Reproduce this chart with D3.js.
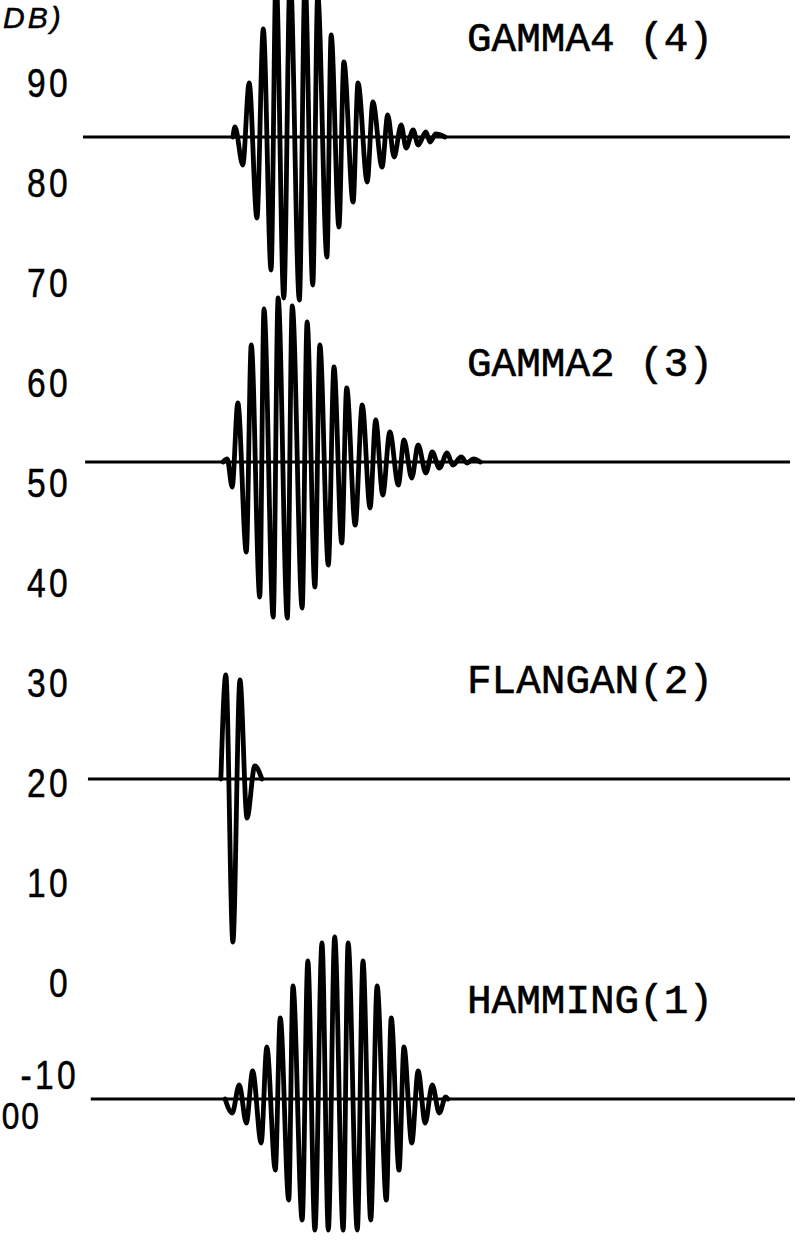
<!DOCTYPE html>
<html>
<head>
<meta charset="utf-8">
<script src="https://cdn.jsdelivr.net/npm/d3@7"></script>
<style>
  html, body { margin: 0; padding: 0; background: #fff; }
  svg { display: block; }
</style>
</head>
<body>
<svg id="chart" width="802" height="1240"></svg>
<script>
// ---------------- data (time in ms, level in dB) ----------------
const dbTicks = [90, 80, 70, 60, 50, 40, 30, 20, 10, 0, -10];
const seriesNames = ["GAMMA4 (4)", "GAMMA2 (3)", "FLANGAN(2)", "HAMMING(1)"];
const baseDb = [84.5, 52.0, 20.3, -11.7];
const lineStart = [0, 0.3, 0.7, 1.1];
const lineEnd = [100, 100, 100, 100.7];

const gamma4T = [21.2, 21.5, 22.6, 23.5, 24.6, 25.5, 26.6, 27.3, 28.4, 29.3, 30.6, 31.4, 32.5, 33.2, 34.5, 35.1, 36.2, 36.9, 38.2, 38.9, 40.2, 41.0, 42.3, 43.1, 44.0, 45.0, 45.7, 46.7, 47.4, 48.5, 49.1, 49.9, 51.2];
const gamma4V = [84.5, 85.5, 81.7, 89.9, 76.4, 95.3, 71.2, 100.7, 68.4, 100.7, 68.2, 100.2, 69.7, 98.7, 72.5, 94.7, 75.5, 92.0, 78.0, 89.9, 80.0, 88.0, 81.5, 86.7, 82.5, 85.7, 83.4, 85.2, 83.7, 85.0, 84.0, 84.8, 84.5];

const gamma2T = [19.8, 20.4, 21.1, 21.9, 23.1, 23.8, 25.0, 25.6, 26.9, 27.6, 28.9, 29.6, 31.0, 31.7, 32.8, 33.5, 34.7, 35.5, 36.6, 37.3, 38.5, 39.5, 40.6, 41.4, 42.4, 43.4, 44.6, 45.4, 46.5, 47.4, 48.5, 49.4, 50.4, 51.5, 52.3, 53.5, 54.3, 55.2, 56.2];
const gamma2V = [52.0, 52.3, 49.5, 57.9, 43.0, 63.7, 38.5, 67.3, 36.5, 68.4, 36.4, 67.6, 37.4, 66.0, 39.5, 63.7, 41.7, 61.5, 43.9, 59.4, 45.7, 57.7, 47.4, 56.2, 48.7, 55.0, 49.7, 54.2, 50.4, 53.7, 50.9, 53.0, 51.4, 52.9, 51.7, 52.5, 51.9, 52.3, 52.0];

const flanganT = [19.5, 20.2, 21.2, 22.2, 23.2, 24.3, 25.3];
const flanganV = [20.3, 30.7, 4.0, 30.2, 16.4, 21.6, 20.3];

const hammingT = [20.1, 21.1, 22.1, 23.1, 24.0, 25.2, 26.0, 27.2, 27.9, 29.1, 29.7, 31.0, 31.8, 32.8, 33.8, 34.7, 35.6, 36.8, 37.5, 38.8, 39.6, 40.7, 41.6, 42.9, 43.6, 44.7, 45.4, 46.5, 47.4, 48.4, 49.4, 50.4, 51.3, 51.6];
const hammingV = [-11.7, -13.1, -10.3, -14.1, -8.9, -16.1, -6.5, -18.8, -3.6, -21.8, -0.4, -23.8, 2.1, -24.8, 3.9, -24.8, 4.5, -24.8, 3.9, -24.8, 2.1, -23.8, -0.4, -21.8, -3.6, -18.8, -6.5, -16.1, -8.9, -14.1, -10.3, -13.1, -11.5, -11.7];

const waveT = [gamma4T, gamma2T, flanganT, hammingT];
const waveV = [gamma4V, gamma2V, flanganV, hammingV];

// ---------------- drawing ----------------
const svg = d3.select("#chart");
svg.append("rect").attr("width", 802).attr("height", 1240).attr("fill", "#fff");

const x = d3.scaleLinear().domain([0, 100]).range([83, 790]);
const y = d3.scaleLinear().domain([90, -10]).range([82, 1082]);

const numFont = "'Liberation Sans', Arial, sans-serif";

// axis labels
const axis = d3.axisLeft(y).tickValues(dbTicks).tickSize(0).tickPadding(0)
  .tickFormat(d => String(d));
const ag = svg.append("g").attr("transform", "translate(71,0)").call(axis);
ag.select(".domain").remove();
ag.selectAll("text")
  .attr("font-family", numFont)
  .attr("font-size", 41)
  .attr("fill", "#000")
  .attr("stroke", "#000").attr("stroke-width", 0.5)
  .attr("letter-spacing", 4)
  .attr("dy", "0.36em")
  .attr("transform", d => d === -10 ? "translate(8,-8) scale(0.82,1)" : "scale(0.82,1)");

// fragments of the unit label and neighbouring number at the edges
svg.append("text").attr("x", 3).attr("y", 28)
  .attr("font-family", numFont)
  .attr("font-size", 30).attr("font-style", "italic").attr("letter-spacing", 3)
  .attr("stroke", "#000").attr("stroke-width", 0.5)
  .text("DB)");
svg.append("text").attr("x", 2).attr("y", 1116).attr("dy", "0.36em")
  .attr("font-family", numFont)
  .attr("font-size", 37).attr("letter-spacing", 2)
  .attr("stroke", "#000").attr("stroke-width", 0.5)
  .attr("transform", "scale(0.86,1)")
  .text("00");

// baselines
seriesNames.forEach((name, i) => {
  svg.append("line")
    .attr("x1", x(lineStart[i])).attr("x2", x(lineEnd[i]))
    .attr("y1", y(baseDb[i])).attr("y2", y(baseDb[i]))
    .attr("stroke", "#000").attr("stroke-width", 3);
});

// waveforms
const line = d3.line()
  .x(d => x(d[0])).y(d => y(d[1]))
  .curve(d3.curveMonotoneX);

waveT.forEach((ts, i) => {
  const pts = ts.map((t, k) => [t, waveV[i][k]]);
  svg.append("path").datum(pts)
    .attr("d", line)
    .attr("fill", "none")
    .attr("stroke", "#000")
    .attr("stroke-width", 4.8)
    .attr("stroke-linejoin", "round")
    .attr("stroke-linecap", "round");
});

// series labels
seriesNames.forEach((name, i) => {
  svg.append("text")
    .attr("x", 467)
    .attr("y", y(baseDb[i]) - 86)
    .attr("font-family", "'Liberation Mono', 'DejaVu Sans Mono', monospace")
    .attr("font-size", 41)
    .attr("fill", "#000")
    .attr("stroke", "#000").attr("stroke-width", 0.6)
    .attr("xml:space", "preserve")
    .style("white-space", "pre")
    .text(name);
});
</script>
</body>
</html>
